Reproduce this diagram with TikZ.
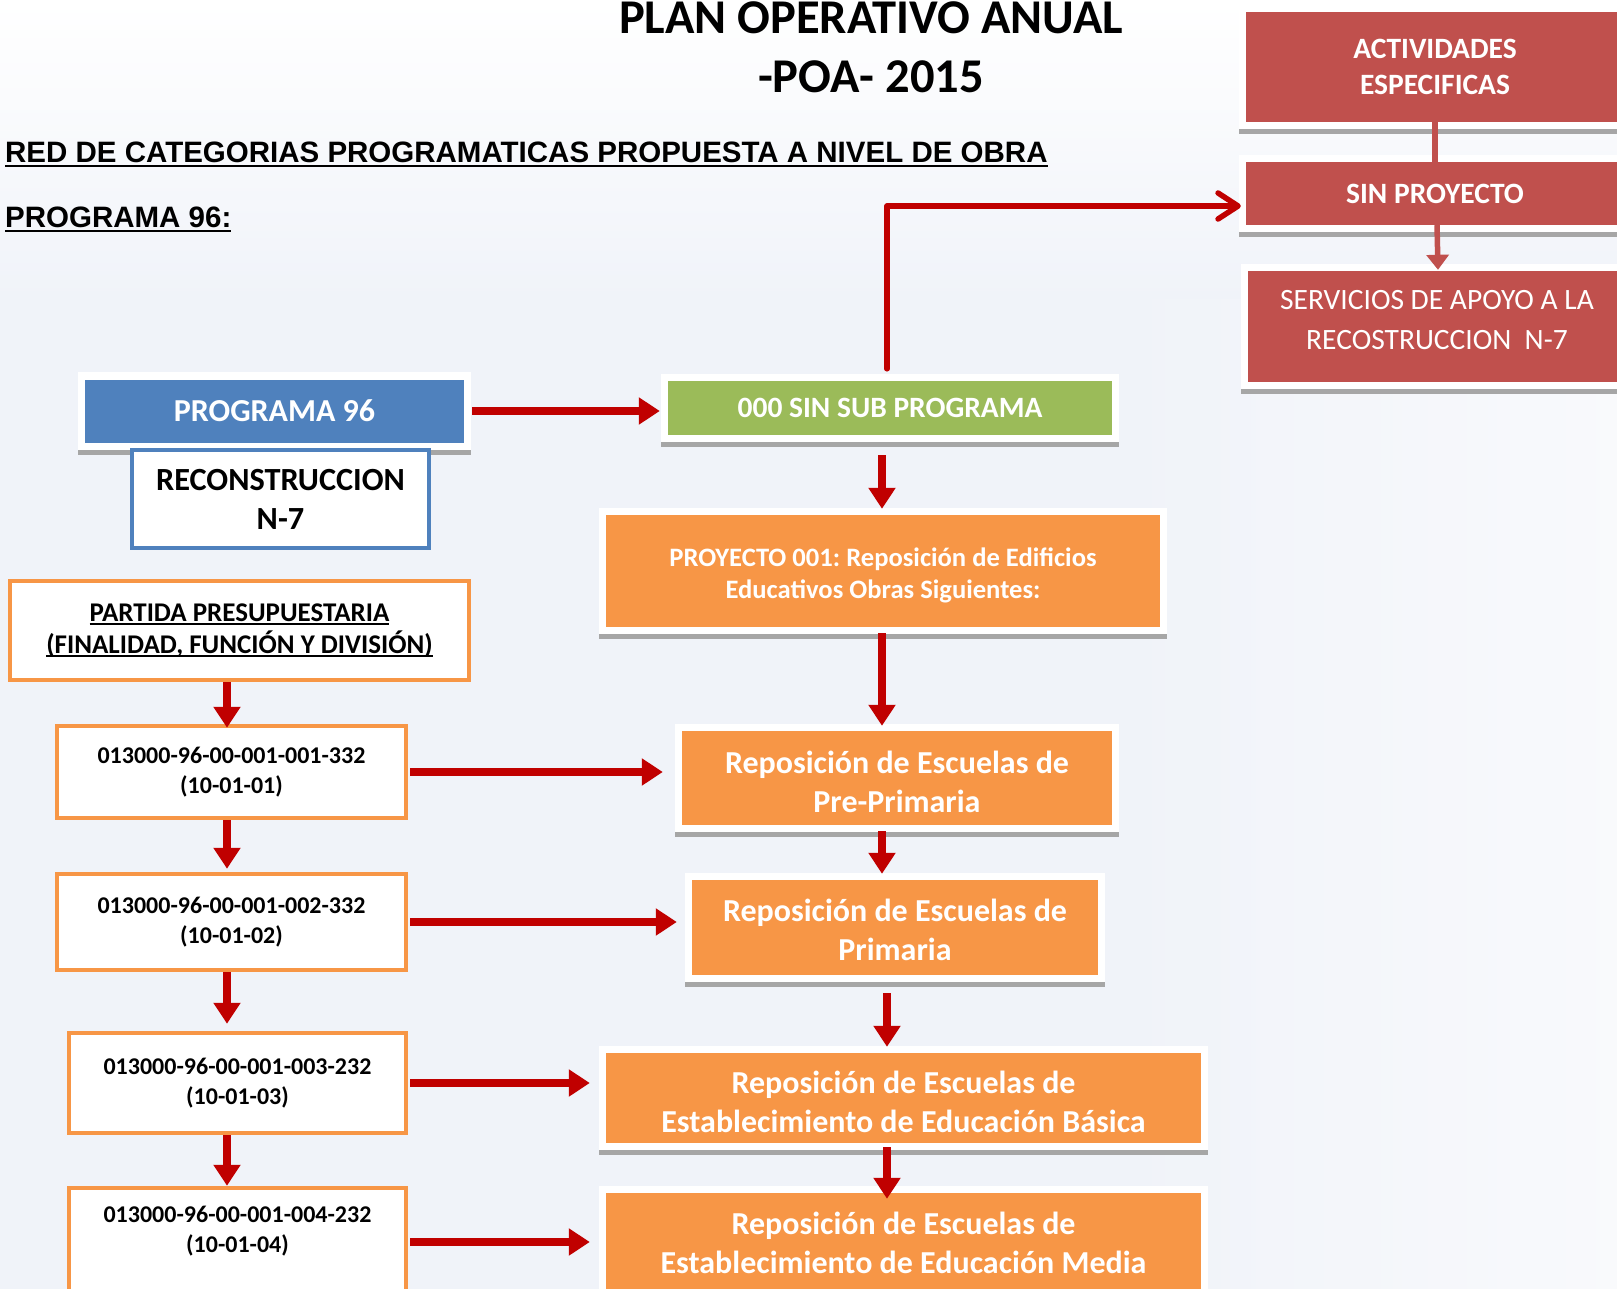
\documentclass[tikz,border=0pt]{standalone}
\usepackage{fontspec}
\setmainfont{Carlito}
\newfontfamily\arialf{Liberation Sans}
\usetikzlibrary{arrows.meta,calc}
\definecolor{redbox}{HTML}{C0504D}
\definecolor{bluebox}{HTML}{4F81BD}
\definecolor{greenbox}{HTML}{9BBB59}
\definecolor{orangebox}{HTML}{F79646}
\definecolor{arrred}{HTML}{C00000}
\definecolor{shgray}{HTML}{A6A6A6}
\definecolor{pagebg}{HTML}{F0F3F9}
\pgfdeclarelayer{bg}\pgfdeclarelayer{frames}
\pgfsetlayers{bg,frames,main}
\newcommand{\myul}[3]{\setbox0\hbox{#3}\rlap{\rule[#1]{\wd0}{#2}}\box0}
\frenchspacing
\begin{document}
\begin{tikzpicture}[x=1pt,y=-1pt,
  cbox/.style={rectangle, inner sep=0pt, align=center, text=white},
  redb/.style={cbox, fill=redbox},
  blueb/.style={cbox, fill=bluebox},
  greenb/.style={cbox, fill=greenbox},
  orangeb/.style={cbox, fill=orangebox},
  wbox/.style={rectangle, inner sep=0pt, align=center, text=black, fill=white, draw=orangebox, line width=4.5pt},
  bigfont/.style={font=\fontsize{32}{39}\selectfont\bfseries},
  codefont/.style={font=\fontsize{24}{30}\selectfont\bfseries},
  arr/.style={draw=arrred, line width=7.5pt, -{Triangle[length=21pt,width=26pt]}},
  barb/.style={draw=arrred, line width=5.5pt, line cap=round, line join=round, -{Straight Barb[length=20pt,width=26pt,round]}},
]
\useasboundingbox (0,0) rectangle (1617,1289);
\begin{pgfonlayer}{bg}
  \fill[pagebg] (0,0) rectangle (1617,1289);
  \shade[top color=white, bottom color=pagebg] (0,0) rectangle (1617,300);
  \shade[left color=pagebg, right color=white, opacity=0.6] (1100,300) rectangle (1617,1289);
\end{pgfonlayer}
\begin{scope}
\clip (0,0) rectangle (1617,1289);

% titles
\node[anchor=base, font=\fontsize{48.5}{58}\selectfont\bfseries] (t1) at (871,33.5) {PLAN OPERATIVO ANUAL};
\node[anchor=base, font=\fontsize{48.5}{58}\selectfont\bfseries] (t2) at (871,92.5) {-POA- 2015};
\node[anchor=base west, inner sep=0pt, font=\arialf\fontsize{29.5}{34}\selectfont\bfseries] (h1) at (5,163) {\myul{-4.5pt}{2.5pt}{RED DE CATEGORIAS PROGRAMATICAS PROPUESTA A NIVEL DE OBRA}};
\node[anchor=base west, inner sep=0pt, font=\arialf\fontsize{29.5}{34}\selectfont\bfseries] (h2) at (5,228) {\myul{-4.5pt}{2.5pt}{PROGRAMA 96:}};

% right column
\node[redb, minimum width=378pt, minimum height=110pt, font=\fontsize{29.5}{36}\selectfont\bfseries] (act) at (1435,67) {ACTIVIDADES\\ESPECIFICAS};
\node[redb, minimum width=378pt, minimum height=63pt, font=\fontsize{29.5}{34}\selectfont\bfseries] (sinp) at (1435,193.5) {SIN PROYECTO};
\node[redb, minimum width=376pt, minimum height=111pt] (serv) at (1436,326.5) {};
\node[cbox, font=\fontsize{29.5}{40}\selectfont] (servt) at (1437,320) {SERVICIOS DE APOYO A LA\\RECOSTRUCCION\ \ N-7};

% middle column
\node[blueb, minimum width=379pt, minimum height=63pt, font=\fontsize{32}{36}\selectfont\bfseries] (prog) at (274.5,411) {PROGRAMA 96};
\node[rectangle, inner sep=0pt, fill=white, draw=bluebox, line width=4pt, minimum width=297pt, minimum height=98pt, align=center, font=\fontsize{32.3}{39}\selectfont\bfseries] (recon) at (280.5,499) {RECONSTRUCCION\\N-7};
\node[greenb, minimum width=444pt, minimum height=54pt, font=\fontsize{29.5}{32}\selectfont\bfseries] (sub) at (890,408) {000 SIN SUB PROGRAMA};
\node[orangeb, minimum width=554pt, minimum height=112pt] (proy) at (883,571) {};
\node[cbox, font=\fontsize{26.6}{32}\selectfont\bfseries] (proyt) at (883,575) {PROYECTO 001: Reposición de Edificios\\Educativos Obras Siguientes:};
\node[orangeb, minimum width=430pt, minimum height=94pt] (pre) at (897,778) {};
\node[cbox, bigfont] (pret) at (897,782) {Reposición de Escuelas de\\Pre-Primaria};
\node[orangeb, minimum width=406pt, minimum height=95pt] (pri) at (895,927.5) {};
\node[cbox, bigfont] (prit) at (895,930) {Reposición de Escuelas de\\Primaria};
\node[orangeb, minimum width=595pt, minimum height=90pt] (bas) at (903.5,1098) {};
\node[cbox, bigfont] (bast) at (903.5,1102) {Reposición de Escuelas de\\Establecimiento de Educación Básica};
\node[orangeb, minimum width=595pt, minimum height=99pt] (med) at (903.5,1242.5) {};
\node[cbox, bigfont] (medt) at (903.5,1242.5) {Reposición de Escuelas de\\Establecimiento de Educación Media};

% left column
\node[wbox, minimum width=459pt, minimum height=99pt, font=\fontsize{27}{32}\selectfont\bfseries] (part) at (239.5,630.5) {\myul{-4pt}{2pt}{PARTIDA PRESUPUESTARIA}\\\myul{-4pt}{2pt}{(FINALIDAD, FUNCIÓN Y DIVISIÓN)}};
\node[wbox, codefont, minimum width=349pt, minimum height=92pt] (c1) at (231.5,772) {013000-96-00-001-001-332\\(10-01-01)};
\node[wbox, codefont, minimum width=349pt, minimum height=96pt] (c2) at (231.5,922) {013000-96-00-001-002-332\\(10-01-02)};
\node[wbox, codefont, minimum width=337pt, minimum height=100pt] (c3) at (237.5,1083) {013000-96-00-001-003-232\\(10-01-03)};
\node[wbox, minimum width=337pt, minimum height=110pt] (c4) at (237.5,1243) {};
\node[codefont, align=center, inner sep=0pt] (c4t) at (237.5,1231.5) {013000-96-00-001-004-232\\(10-01-04)};

\coordinate (lx) at (227,0);
\coordinate (mx) at (882,0);
\coordinate (mx2) at (887,0);

% frames behind coloured boxes
\begin{pgfonlayer}{frames}
\foreach \n in {act,sinp,serv,prog,sub,proy,pre,pri,bas,med}{
  \fill[shgray] ([xshift=-7pt,yshift=-12pt]\n.south west) rectangle ([xshift=7pt,yshift=-5pt]\n.south east);
  \fill[white] ([xshift=-7pt,yshift=-7pt]\n.south west) rectangle ([xshift=7pt,yshift=7pt]\n.north east);
}
\end{pgfonlayer}

% connectors, right column
\draw[redbox, line width=5.5pt] (act.south) -- (sinp.north);
\draw[redbox, line width=5.5pt, -{Triangle[length=15pt,width=22pt]}] ([xshift=2pt]sinp.south) -- ([xshift=2pt,yshift=1pt]serv.north);
\draw[barb] ([xshift=-3pt,yshift=12pt]sub.north) |- ([xshift=-5pt,yshift=-12.5pt]sinp.west);

% middle column
\draw[arr] ([xshift=8pt]prog.east) -- ([xshift=-8pt]prog.east -| sub.west);
\draw[arr] ([yshift=-20pt]sub.south -| mx) -- ([yshift=6pt]proy.north -| mx);
\draw[arr] ([yshift=-6pt]proy.south -| mx) -- ([yshift=5pt]pre.north -| mx);
\draw[arr] ([yshift=-6pt]pre.south -| mx) -- ([yshift=6pt]pri.north -| mx);
\draw[arr] ([yshift=-18pt]pri.south -| mx2) -- ([yshift=6pt]bas.north -| mx2);
\draw[arr] ([yshift=-4pt]bas.south -| mx2) -- ([yshift=-6pt]med.north -| mx2);

% left column
\draw[arr] (part.south -| lx) -- ([yshift=-4pt]c1.north -| lx);
\draw[arr] (c1.south -| lx) -- ([yshift=3pt]c2.north -| lx);
\draw[arr] (c2.south -| lx) -- ([yshift=7pt]c3.north -| lx);
\draw[arr] (c3.south -| lx) -- (c4.north -| lx);

% horizontal
\draw[arr] ([xshift=2pt]c1.east) -- ([xshift=-19pt]c1.east -| pre.west);
\draw[arr] ([xshift=2pt]c2.east) -- ([xshift=-15pt]c2.east -| pri.west);
\draw[arr] ([xshift=2pt]c3.east) -- ([xshift=-16pt]c3.east -| bas.west);
\draw[arr] ([xshift=2pt,yshift=1pt]c4.east) -- ([xshift=-16pt,yshift=1pt]c4.east -| med.west);
\end{scope}
\end{tikzpicture}
\end{document}
